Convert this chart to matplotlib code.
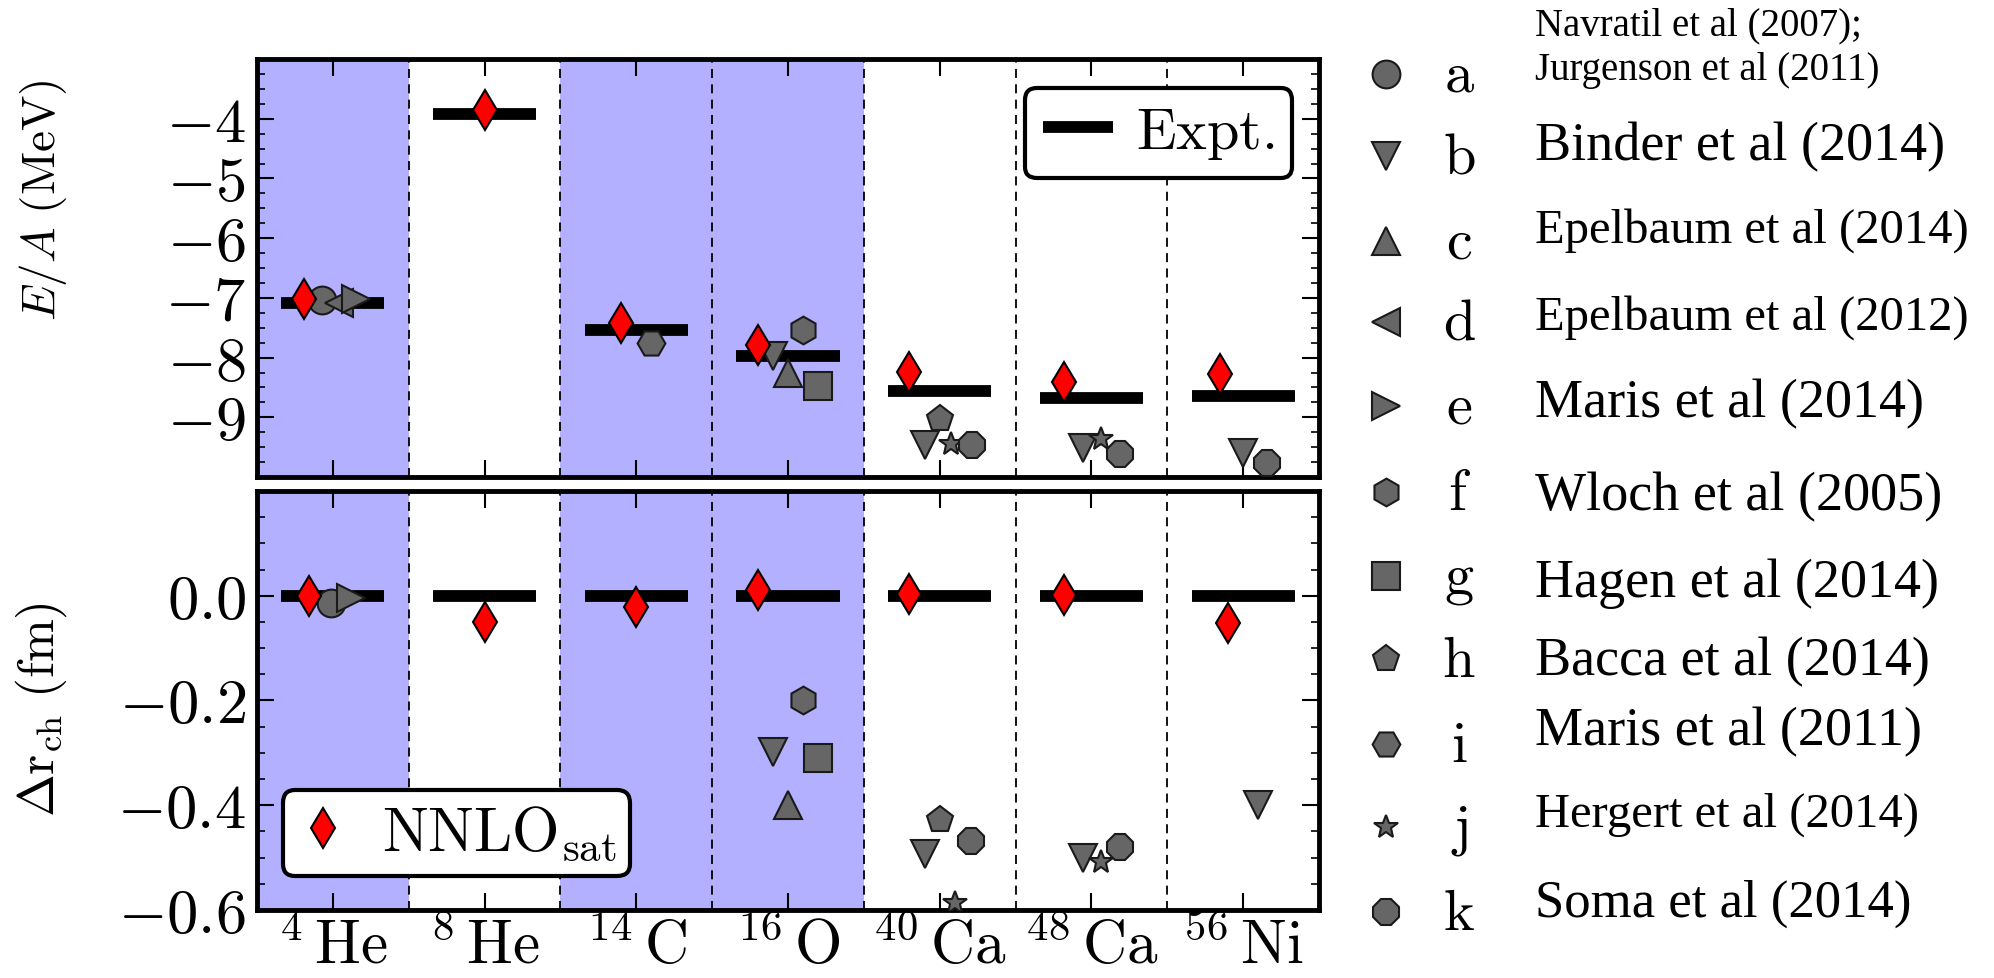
import numpy as np
import matplotlib
matplotlib.use('Agg')
import matplotlib.pyplot as plt
from matplotlib.ticker import MultipleLocator, FormatStrFormatter
from matplotlib.lines import Line2D

plt.rcParams['mathtext.fontset'] = 'cm'
plt.rcParams['font.family'] = 'serif'
plt.rcParams['font.serif'] = ['Liberation Serif', 'DejaVu Serif']

nan = np.nan

# nuclei along the x axis
nuclei = ['4He', '8He', '14C', '16O', '40Ca', '48Ca', '56Ni']
tick_labels = [r'$^{4}\,\mathrm{He}$', r'$^{8}\,\mathrm{He}$', r'$^{14}\,\mathrm{C}$',
               r'$^{16}\,\mathrm{O}$', r'$^{40}\,\mathrm{Ca}$', r'$^{48}\,\mathrm{Ca}$',
               r'$^{56}\,\mathrm{Ni}$']
shaded = ['4He', '14C', '16O']

# experiment and NNLOsat
expt_ea = [-7.08, -3.92, -7.53, -7.98, -8.56, -8.67, -8.65]
nnlo_ea = [-7.02, -3.86, -7.42, -7.79, -8.24, -8.41, -8.27]
expt_dr = [0.0, 0.0, 0.0, 0.0, 0.0, 0.0, 0.0]
nnlo_dr = [-0.001, -0.050, -0.021, 0.010, 0.003, 0.001, -0.053]

# other calculations (nan = not available)
ea_a = [-7.03, nan, nan, nan, nan, nan, nan]
dr_a = [-0.014, nan, nan, nan, nan, nan, nan]
ea_b = [nan, nan, nan, -7.98, -9.46, -9.52, -9.60]
dr_b = [nan, nan, nan, -0.298, -0.493, -0.500, -0.400]
ea_c = [nan, nan, nan, -8.25, nan, nan, nan]
dr_c = [nan, nan, nan, -0.400, nan, nan, nan]
ea_d = [-7.08, nan, nan, nan, nan, nan, nan]
dr_d = [nan, nan, nan, nan, nan, nan, nan]
ea_e = [-7.02, nan, nan, nan, nan, nan, nan]
dr_e = [-0.005, nan, nan, nan, nan, nan, nan]
ea_f = [nan, nan, nan, -7.54, nan, nan, nan]
dr_f = [nan, nan, nan, -0.200, nan, nan, nan]
ea_g = [nan, nan, nan, -8.47, nan, nan, nan]
dr_g = [nan, nan, nan, -0.310, nan, nan, nan]
ea_h = [nan, nan, nan, nan, -9.03, nan, nan]
dr_h = [nan, nan, nan, nan, -0.428, nan, nan]
ea_i = [nan, nan, -7.76, nan, nan, nan, nan]
dr_i = [nan, nan, nan, nan, nan, nan, nan]
ea_j = [nan, nan, nan, nan, -9.45, -9.37, nan]
dr_j = [nan, nan, nan, nan, -0.586, -0.509, nan]
ea_k = [nan, nan, nan, nan, -9.46, -9.62, -9.76]
dr_k = [nan, nan, nan, nan, -0.469, -0.480, nan]

letters = ['a', 'b', 'c', 'd', 'e', 'f', 'g', 'h', 'i', 'j', 'k']
refs = ['Navratil et al (2007);\nJurgenson et al (2011)', 'Binder et al (2014)',
        'Epelbaum et al (2014)', 'Epelbaum et al (2012)', 'Maris et al (2014)',
        'Wloch et al (2005)', 'Hagen et al (2014)', 'Bacca et al (2014)',
        'Maris et al (2011)', 'Hergert et al (2014)', 'Soma et al (2014)']

# styles / layout
markers = ['o', 'v', '^', '<', '>', 'h', 's', 'p', 'H', '*', '8']
msizes = [20, 20, 20, 20, 20, 20, 20, 20, 20, 18, 20]
ea_sets = [ea_a, ea_b, ea_c, ea_d, ea_e, ea_f, ea_g, ea_h, ea_i, ea_j, ea_k]
dr_sets = [dr_a, dr_b, dr_c, dr_d, dr_e, dr_f, dr_g, dr_h, dr_i, dr_j, dr_k]
# horizontal shift of each set inside its nucleus column
dx_nnlo_top = [-0.19, 0.0, -0.10, -0.20, -0.20, -0.18, -0.15]
dx_nnlo_bot = [-0.16, 0.0, 0.0, -0.20, -0.20, -0.18, -0.10]
dx_top = [[-0.07] * 7, [0, 0, 0, -0.10, -0.10, -0.055, 0.0], [0.0] * 7, [0.04] * 7,
          [0.15] * 7, [0.10] * 7, [0.20] * 7, [0.0] * 7, [0.10] * 7,
          [0, 0, 0, 0, 0.077, 0.066, 0], [0, 0, 0, 0, 0.21, 0.187, 0.154]]
dx_bot = [[-0.01] * 7, [0, 0, 0, -0.10, -0.10, -0.055, 0.10], [0.0] * 7, [0.04] * 7,
          [0.12] * 7, [0.10] * 7, [0.20] * 7, [0.0] * 7, [0.10] * 7,
          [0, 0, 0, 0, 0.10, 0.06, 0], [0, 0, 0, 0, 0.204, 0.187, 0]]

gray = '#666666'
blue = '#b3b0ff'

fig = plt.figure(figsize=(19.94, 9.79), dpi=100)
ax1 = fig.add_axes([0.1289, 0.5117, 0.5326, 0.427])
ax2 = fig.add_axes([0.1289, 0.0695, 0.5326, 0.428])

x = np.arange(len(nuclei))

for ax in (ax1, ax2):
    for i, n in enumerate(nuclei):
        if n in shaded:
            ax.axvspan(i - 0.5, i + 0.5, color=blue, lw=0, zorder=0)
    for i in range(len(nuclei) - 1):
        ax.axvline(i + 0.5, color='k', lw=1.3, ls=(0, (5, 3.5)), zorder=1)
    ax.set_xlim(-0.5, len(nuclei) - 0.5)
    ax.set_xticks(x)
    for s in ax.spines.values():
        s.set_linewidth(3.5)
    ax.tick_params(which='both', direction='in', top=True, right=True)
    ax.tick_params(which='major', length=12, width=1.5, labelsize=45, pad=8)
    ax.tick_params(which='minor', length=6, width=1.2)
    ax.tick_params(axis='x', which='minor', length=0)

panels = [(ax1, expt_ea, nnlo_ea, ea_sets, dx_nnlo_top, dx_top),
          (ax2, expt_dr, nnlo_dr, dr_sets, dx_nnlo_bot, dx_bot)]
for ax, expt, nnlo, sets, dxn, dxs in panels:
    ax.hlines(expt, x - 0.34, x + 0.34, color='k', lw=8.5, zorder=2)
    for vals, dx, m, ms in zip(sets, dxs, markers, msizes):
        ax.plot(x + np.array(dx), vals, ls='none', marker=m, ms=ms,
                mfc=gray, mec='#1a1a1a', mew=1.5, zorder=3)
    ax.plot(x + np.array(dxn), nnlo, ls='none', marker='d', ms=20,
            mfc='red', mec='k', mew=1.5, zorder=4)

ax1.set_ylim(-10, -3)
ax1.set_yticks(np.arange(-9, -3))
ax1.yaxis.set_major_formatter(FormatStrFormatter(r'$%d$'))
ax1.yaxis.set_minor_locator(MultipleLocator(0.25))
ax1.set_xticklabels([])
ax1.set_ylabel(r'$E/A\ \mathrm{(MeV)}$', fontsize=34)
ax1.yaxis.set_label_coords(-0.177, 0.665)

ax2.set_ylim(-0.6, 0.2)
ax2.set_yticks([-0.6, -0.4, -0.2, 0.0])
ax2.yaxis.set_major_formatter(FormatStrFormatter(r'$%.1f$'))
ax2.yaxis.set_minor_locator(MultipleLocator(0.05))
ax2.set_xticklabels(tick_labels, fontsize=44)
ax2.tick_params(axis='x', pad=6)
ax2.set_ylabel(r'$\Delta \mathrm{r}_{\mathrm{ch}}\ \mathrm{(fm)}$', fontsize=37)
ax2.yaxis.set_label_coords(-0.177, 0.48)

h_expt = Line2D([], [], color='k', lw=8.5, solid_capstyle='butt')
leg1 = ax1.legend([h_expt], [r'$\mathrm{Expt.}$'], loc='upper right',
                  bbox_to_anchor=(0.975, 0.93), borderaxespad=0, fontsize=42,
                  handlelength=1.2, handletextpad=0.4, borderpad=0.3,
                  fancybox=True, framealpha=1, edgecolor='k')
leg1.get_frame().set_linewidth(3)

h_nnlo = Line2D([], [], ls='none', marker='d', ms=20, mfc='red', mec='k', mew=1.5)
leg2 = ax2.legend([h_nnlo], [r'$\mathrm{NNLO}_{\mathrm{sat}}$'], loc='lower left',
                  bbox_to_anchor=(0.024, 0.081), borderaxespad=0, fontsize=44,
                  handlelength=0.9, handletextpad=0.5, borderpad=0.22, numpoints=1,
                  fancybox=True, framealpha=1, edgecolor='k')
leg2.get_frame().set_linewidth(3)

# key of the other calculations, drawn in pixel coordinates on the right
key = fig.add_axes([0, 0, 1, 1])
key.set_xlim(0, 1994)
key.set_ylim(979, 0)
key.axis('off')
key.patch.set_alpha(0)
row_y = [75, 157, 242, 323, 407, 493, 577, 660, 745, 828, 913]
ref_y = [35, 160, 243, 330, 417, 510, 597, 675, 745, 827, 917]
ref_size = [28, 39, 35, 35, 39, 39, 39, 39, 39, 35, 38]
for m, ms, lt, ref, ry, ty, fs in zip(markers, msizes, letters, refs, row_y, ref_y, ref_size):
    key.plot(1386, ry, ls='none', marker=m, ms=ms, mfc=gray, mec='#1a1a1a', mew=1.5)
    key.text(1459, ry + 17, r'$\mathrm{%s}$' % lt, fontsize=42, ha='center', va='baseline')
    for j, line in enumerate(ref.split('\n')):
        key.text(1535, ty + 45 * j, line, fontsize=fs, ha='left', va='baseline')

fig.savefig('out.png', dpi=100)
